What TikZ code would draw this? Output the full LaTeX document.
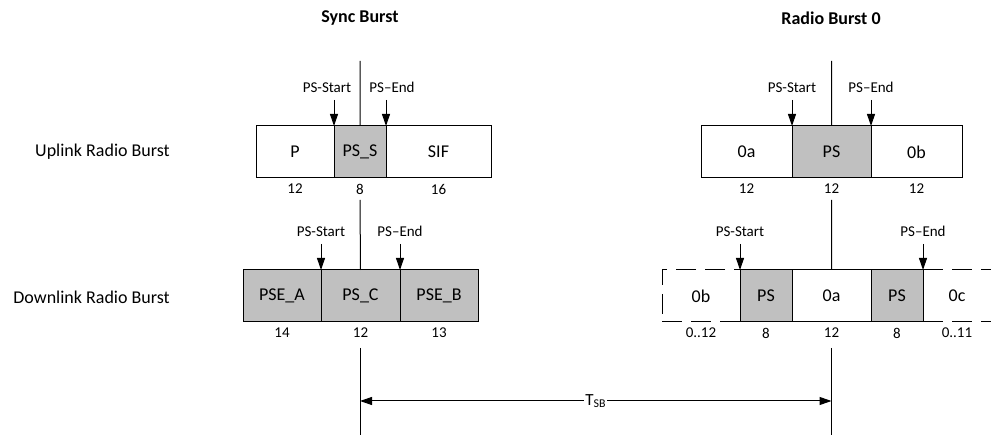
\documentclass[tikz,border=0pt]{standalone}
\usepackage{fontspec}
\setmainfont{Carlito}
\usepackage{tikz}
\usetikzlibrary{arrows.meta,positioning}
\definecolor{bk25}{HTML}{C0C0C0}

\tikzset{
  field/.style={rectangle, draw, line width=1bp, minimum height=52bp,
                inner sep=0pt, outer sep=0pt, font=\fontsize{18bp}{20bp}\selectfont},
  psfield/.style={field, fill=bk25},
  dashfield/.style={field, dash pattern=on 20bp off 9bp},
  num/.style={inner sep=0pt, font=\fontsize{15bp}{17bp}\selectfont},
  pslbl/.style={inner sep=0pt, font=\fontsize{15bp}{17bp}\selectfont},
  tick/.style={-{Triangle[length=12bp,width=8bp]}, line width=1bp},
  axis/.style={line width=1bp},
}

\begin{document}
\begin{tikzpicture}[x=1bp, y=-1bp]
  \useasboundingbox (0,0) rectangle (991,435);

  % headings
  \node[font=\bfseries\fontsize{18bp}{20bp}\selectfont] (sync) at (360,18) {Sync Burst};
  \node[font=\bfseries\fontsize{18bp}{20bp}\selectfont] (rb0) at (831,18) {Radio Burst 0};
  \node[font=\fontsize{18bp}{20bp}\selectfont, anchor=east, inner sep=0pt] (ul) at (170,152) {Uplink Radio Burst};
  \node[font=\fontsize{18bp}{20bp}\selectfont, anchor=east, inner sep=0pt] (dl) at (170,297) {Downlink Radio Burst};

  % uplink, sync burst
  \node[field, minimum width=78bp, anchor=west] (up) at (256,152) {P};
  \node[psfield, minimum width=52bp, right=0pt of up] (ups) {PS\_S};
  \node[field, minimum width=105bp, right=0pt of ups] (usif) {SIF};
  \node[num, below=6bp of up] (nup) {12};
  \node[num, below=6bp of ups] (nups) {8};
  \node[num, below=6bp of usif] (nusif) {16};

  % uplink, radio burst 0
  \node[field, minimum width=91bp, anchor=west] (ua) at (701,152) {0a};
  \node[psfield, minimum width=79bp, right=0pt of ua] (ups0) {PS};
  \node[field, minimum width=91bp, right=0pt of ups0] (ub) {0b};
  \node[num, below=6bp of ua] (nua) {12};
  \node[num, below=6bp of ups0] (nups0) {12};
  \node[num, below=6bp of ub] (nub) {12};

  % downlink, sync burst
  \node[psfield, minimum width=78bp, anchor=west] (dpa) at (243,296) {PSE\_A};
  \node[psfield, minimum width=79bp, right=0pt of dpa] (dpc) {PS\_C};
  \node[psfield, minimum width=78bp, right=0pt of dpc] (dpb) {PSE\_B};
  \node[num, below=6bp of dpa] (ndpa) {14};
  \node[num, below=6bp of dpc] (ndpc) {12};
  \node[num, below=6bp of dpb] (ndpb) {13};

  % downlink, radio burst 0
  \node[dashfield, minimum width=78bp, anchor=west] (db) at (662,296) {0b};
  \node[psfield, minimum width=52bp, right=0pt of db] (dps1) {PS};
  \node[field, minimum width=79bp, right=0pt of dps1] (da) {0a};
  \node[psfield, minimum width=52bp, right=0pt of da] (dps2) {PS};
  \node[field, draw=none, minimum width=68bp, right=0pt of dps2] (dc) {0c};
  \draw[line width=1bp, dash pattern=on 20bp off 9bp]
    (dc.north west) -- (dc.north east) (dc.south west) -- (dc.south east);
  \node[num, below=6bp of db] (ndb) {0..12};
  \node[num, below=6bp of dps1] (ndps1) {8};
  \node[num, below=6bp of da] (nda) {12};
  \node[num, below=6bp of dps2] (ndps2) {8};
  \node[num, below=6bp of dc] (ndc) {0..11};

  % PS-Start / PS-End markers
  \coordinate[above=26bp of ups.north west] (m1);
  \coordinate[above=26bp of ups.north east] (m2);
  \coordinate[above=26bp of ups0.north west] (m3);
  \coordinate[above=26bp of ups0.north east] (m4);
  \coordinate[above=26bp of dpc.north west] (m5);
  \coordinate[above=26bp of dpc.north east] (m6);
  \coordinate[above=26bp of dps1.north west] (m7);
  \coordinate[above=26bp of dps2.north east] (m8);
  \node[pslbl, above=7bp of m1, xshift=-7bp] (l1) {PS-Start};
  \node[pslbl, above=7bp of m2, xshift=6bp] (l2) {PS--End};
  \node[pslbl, above=7bp of m3] (l3) {PS-Start};
  \node[pslbl, above=7bp of m4] (l4) {PS--End};
  \node[pslbl, above=7bp of m5] (l5) {PS-Start};
  \node[pslbl, above=7bp of m6] (l6) {PS--End};
  \node[pslbl, above=7bp of m7] (l7) {PS-Start};
  \node[pslbl, above=7bp of m8] (l8) {PS--End};
  \draw[tick] (m1) -- (ups.north west);
  \draw[tick] (m2) -- (ups.north east);
  \draw[tick] (m3) -- (ups0.north west);
  \draw[tick] (m4) -- (ups0.north east);
  \draw[tick] (m5) -- (dpc.north west);
  \draw[tick] (m6) -- (dpc.north east);
  \draw[tick] (m7) -- (dps1.north west);
  \draw[tick] (m8) -- (dps2.north east);

  % burst axes
  \coordinate (sa) at (360,61);
  \coordinate (sb) at (360,200);
  \coordinate (sc) at (360,348);
  \coordinate (sd) at (360,435);
  \coordinate (ra) at (831.5,61);
  \coordinate (rb) at (831.5,200);
  \coordinate (rc) at (831.5,348);
  \coordinate (rd) at (831.5,435);
  \draw[axis] (sa) -- (ups.north);
  \draw[axis] (sb) -- (dpc.north);
  \draw[axis] (sc) -- (sd);
  \draw[axis] (ra) -- (ups0.north);
  \draw[axis] (rb) -- (da.north);
  \draw[axis] (rc) -- (rd);

  % sync burst period
  \coordinate (ta) at (360,401);
  \coordinate (tb) at (831.5,401);
  \draw[{Triangle[length=12bp,width=8bp]}-{Triangle[length=12bp,width=8bp]}, line width=1bp]
    (ta) -- (tb) node[midway, fill=white, inner sep=1bp,
                      font=\fontsize{17bp}{19bp}\selectfont] (tsb) {T\textsubscript{SB}};
\end{tikzpicture}
\end{document}
